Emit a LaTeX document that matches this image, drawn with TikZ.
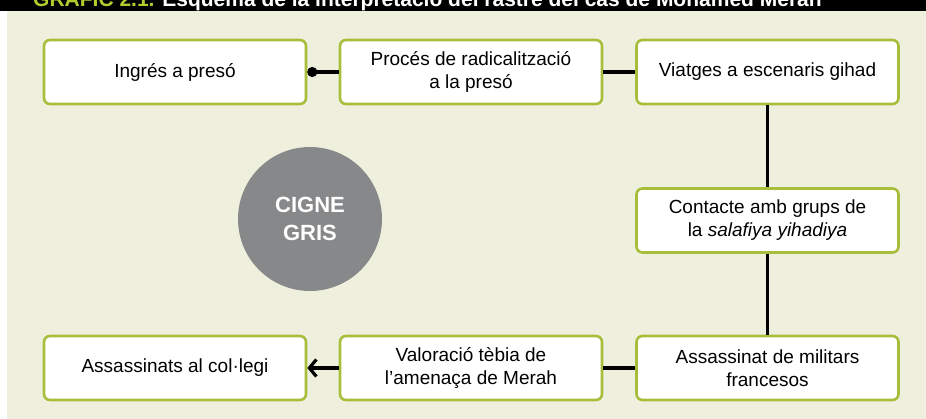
\documentclass[tikz,border=0pt]{standalone}
\usepackage{fontspec}
\setmainfont{Liberation Sans}
\usetikzlibrary{arrows.meta}
\definecolor{bgl}{HTML}{EEF0DD}
\definecolor{boxg}{HTML}{A8BD3A}
\definecolor{titleg}{HTML}{B5CC2E}
\definecolor{circg}{HTML}{87888A}
\begin{document}
\begin{tikzpicture}[x=1pt,y=-1pt,
  stepbox/.style={draw=boxg, line width=2.6pt, rounded corners=6pt, fill=white,
    minimum width=262pt, minimum height=64pt, align=center, inner sep=2pt,
    font=\fontsize{19}{23}\selectfont},
  conn/.style={line width=3.2pt, black}]
\useasboundingbox (0,0) rectangle (926,419);
\clip (0,0) rectangle (926,419);
\fill[white] (0,0) rectangle (926,419);
\fill[bgl] (7,11) rectangle (926,419);
\fill[black] (0,0) rectangle (926,11);
\node[anchor=base west, inner sep=0pt, font=\bfseries\fontsize{21}{24}\selectfont] (title) at (33,7)
  {\textcolor{titleg}{GRÀFIC 2.1.} \textcolor{white}{Esquema de la interpretació del rastre del cas de Mohamed Merah}};

\node[stepbox] (b1) at (175,72) {Ingrés a presó};
\node[stepbox] (b2) at (471,72) {Procés de radicalització\\a la presó};
\node[stepbox] (b3) at (767.5,72) {Viatges a escenaris gihad};
\node[stepbox] (b4) at (767.5,220.5) {Contacte amb grups de\\la \textit{salafiya yihadiya}};
\node[stepbox] (b5) at (175,368) {Assassinats al col·legi};
\node[stepbox] (b6) at (471,368) {Valoració tèbia de\\l’amenaça de Merah};
\node[stepbox] (b7) at (767.5,368) {Assassinat de militars\\francesos};

\node[circle, fill=circg, minimum size=144pt, inner sep=0pt, align=center,
  text=white, font=\bfseries\fontsize{22}{28}\selectfont] (cg) at (310,219) {CIGNE\\GRIS};

\draw[conn, {Circle[length=10pt]}-] (b1.east) -- (b2.west);
\draw[conn] (b2.east) -- (b3.west);
\draw[conn] (b3.south) -- (b4.north);
\draw[conn] (b4.south) -- (b7.north);
\draw[conn] (b7.west) -- (b6.east);
\draw[conn, {Straight Barb[length=7pt,width=17pt]}-] (b5.east) -- (b6.west);
\end{tikzpicture}
\end{document}
